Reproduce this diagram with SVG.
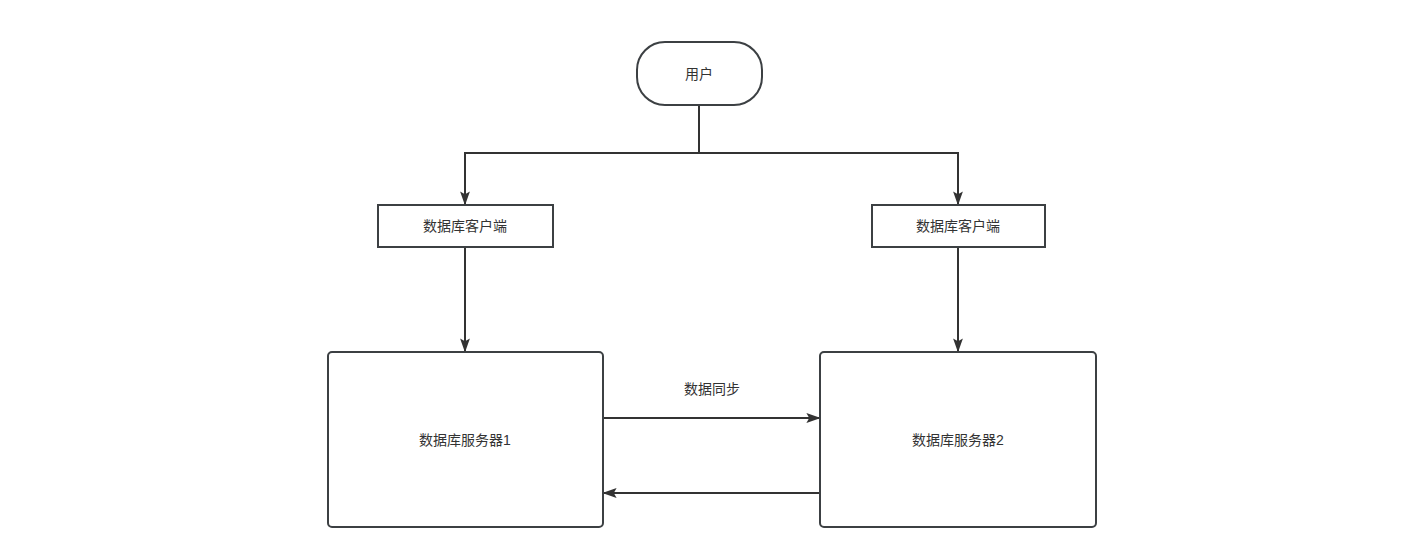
<svg xmlns="http://www.w3.org/2000/svg" width="1428" height="556" viewBox="0 0 1428 556">
<style>
.n{fill:#fff;stroke:#3c4043;stroke-width:2}
.t{font-family:"Liberation Sans","Noto Sans CJK SC",sans-serif;font-size:14px;fill:#333;text-anchor:middle;dominant-baseline:central}
.c{fill:none;stroke:#333;stroke-width:2}
</style>
<defs><marker id="a" viewBox="0 0 10 10" refX="10" refY="5" markerWidth="7" markerHeight="7" markerUnits="userSpaceOnUse" orient="auto"><path d="M0,0L10,5L0,10L2,5z" fill="#333"/></marker>
<marker id="b" viewBox="0 0 10 10" refX="9" refY="5" markerWidth="14" markerHeight="14" markerUnits="userSpaceOnUse" orient="auto"><path d="M0,1.5L10,5L0,8.5L2,5z" fill="#333"/></marker></defs>
<rect width="1428" height="556" fill="#fff"/>
<g id="connectors">
<path class="c" d="M699,105V153H465V204" marker-end="url(#b)"/>
<path class="c" d="M699,153H958V204" marker-end="url(#b)"/>
<path class="c" d="M465,247V351" marker-end="url(#b)"/>
<path class="c" d="M958,247V351" marker-end="url(#b)"/>
<path class="c" d="M603,418H819" marker-end="url(#b)"/>
<path class="c" d="M820,493H604" marker-end="url(#b)"/>
<text class="t" x="712" y="389">数据同步</text>
</g>
<g id="user"><rect class="n" x="637" y="42" width="125" height="63" rx="28"/><text class="t" x="699" y="74">用户</text></g>
<g id="client1"><rect class="n" x="378" y="205" width="175" height="42"/><text class="t" x="465" y="226">数据库客户端</text></g>
<g id="client2"><rect class="n" x="872" y="205" width="173" height="42"/><text class="t" x="958" y="226">数据库客户端</text></g>
<g id="server1"><rect class="n" x="328" y="352" width="275" height="175" rx="4"/><text class="t" x="465" y="440">数据库服务器1</text></g>
<g id="server2"><rect class="n" x="820" y="352" width="276" height="175" rx="4"/><text class="t" x="958" y="440">数据库服务器2</text></g>
</svg>
